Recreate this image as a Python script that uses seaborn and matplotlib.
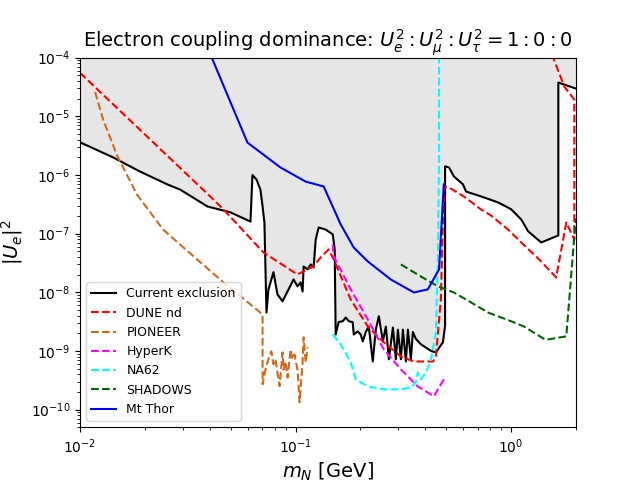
import pandas as pd
import seaborn as sns
import matplotlib.pyplot as plt

# current exclusion (black)
excl_m = [0.0100, 0.0142, 0.0190, 0.0254, 0.0292, 0.0390, 0.0499, 0.0618, 0.0631, 0.0659,
          0.0687, 0.0703, 0.0717, 0.0733, 0.0748, 0.0790, 0.0824, 0.0870, 0.0979, 0.1021,
          0.1055, 0.1078, 0.1090, 0.1138, 0.1175, 0.1213, 0.1240, 0.1280, 0.1379, 0.1487,
          0.1519, 0.1535, 0.1585, 0.1655, 0.1710, 0.1766, 0.1841, 0.1862, 0.1943, 0.2006,
          0.2050, 0.2118, 0.2186, 0.2282, 0.2357, 0.2434, 0.2541, 0.2624, 0.2710, 0.2829,
          0.2921, 0.2984, 0.3081, 0.3148, 0.3250, 0.3320, 0.3428, 0.3502, 0.3615, 0.3811,
          0.4246, 0.4477, 0.4826, 0.4940, 0.4940, 0.515, 0.543, 0.598, 0.618, 0.725,
          0.870, 1.000, 1.114, 1.200, 1.380, 1.656, 1.656, 2.0]
excl_u = [3.6e-6, 2.0e-6, 1.14e-6, 6.9e-7, 5.6e-7, 2.9e-7, 2.3e-7, 1.6e-7, 1.0e-6, 8.3e-7,
          5.6e-7, 2.9e-7, 1.55e-7, 4.5e-9, 1.1e-8, 2.2e-8, 9.2e-9, 7.0e-9, 1.65e-8, 1.26e-8,
          1.47e-8, 1.03e-8, 2.75e-8, 2.45e-8, 2.98e-8, 2.64e-8, 7.9e-8, 1.27e-7, 1.17e-7, 9.7e-8,
          5.4e-8, 1.9e-9, 3.1e-9, 3.2e-9, 3.7e-9, 3.2e-9, 3.1e-9, 1.9e-9, 2.15e-9, 1.9e-9,
          1.45e-9, 2.1e-9, 2.6e-9, 6.6e-10, 2.3e-9, 3.9e-9, 1.45e-9, 2.6e-9, 7.2e-10, 2.5e-9,
          7.2e-10, 2.3e-9, 7.2e-10, 2.3e-9, 6.6e-10, 2.3e-9, 7.2e-10, 2.1e-9, 1.6e-9, 1.3e-9,
          1.0e-9, 9.4e-10, 1.4e-9, 2.7e-9, 1.4e-6, 1.34e-6, 9.4e-7, 6.9e-7, 5.2e-7, 4.3e-7,
          3.4e-7, 2.6e-7, 1.74e-7, 1.09e-7, 7.05e-8, 9.3e-8, 3.75e-5, 2.96e-5]

dune_m = [0.0100, 0.0212, 0.0416, 0.0463, 0.0710, 0.102, 0.121, 0.1307, 0.1423, 0.1503,
          0.1803, 0.2163, 0.2566, 0.308, 0.354, 0.4335, 0.4477, 0.472, 0.4874, 0.515,
          0.604, 0.725, 0.807, 0.968, 1.114, 1.349, 1.618, 1.803, 1.964, 1.964,
          1.765, 1.567, 1.50]
dune_u = [5.5e-5, 4.0e-6, 3.8e-7, 2.58e-7, 4.76e-8, 2.01e-8, 2.75e-8, 3.92e-8, 5.36e-8, 3.62e-8,
          7.5e-9, 2.61e-9, 1.40e-9, 8.05e-10, 6.6e-10, 6.6e-10, 8.05e-10, 7.5e-9, 6.3e-7, 6.1e-7,
          4.28e-7, 2.58e-7, 2.03e-7, 1.17e-7, 7.05e-8, 3.62e-8, 1.79e-8, 1.55e-7, 7.9e-8, 1.92e-5,
          3.2e-5, 1.0e-4, 1.4e-4]

pioneer_m = [0.01175, 0.0128, 0.0149, 0.0184, 0.0243, 0.0336, 0.0463, 0.0703, 0.0703, 0.0725,
             0.0748, 0.0772, 0.0790, 0.0807, 0.0824, 0.0843, 0.0870, 0.0880, 0.0898, 0.0918,
             0.0948, 0.0968, 0.0989, 0.1021, 0.1044, 0.1078, 0.1090, 0.1114, 0.1138]
pioneer_u = [2.6e-5, 8.8e-6, 2.1e-6, 4.6e-7, 1.17e-7, 4.1e-8, 1.47e-8, 4.2e-9, 2.7e-10, 4.8e-10,
             7.2e-10, 9.8e-10, 5.9e-10, 7.2e-10, 4.3e-10, 2.5e-10, 9.4e-10, 4.8e-10, 6.6e-10, 3.5e-10,
             1.06e-9, 7.2e-10, 8.7e-10, 4.8e-10, 1.33e-10, 6.4e-10, 1.7e-9, 6.4e-10, 1.15e-9]

hyperk_m = [0.1487, 0.1503, 0.1803, 0.2163, 0.2566, 0.308, 0.369, 0.4385, 0.4574, 0.4874]
hyperk_u = [6.5e-8, 4.07e-8, 1.12e-8, 3.44e-9, 1.06e-9, 4.84e-10, 2.48e-10, 1.68e-10, 2.21e-10, 3.27e-10]

na62_m = [0.1487, 0.162, 0.1803, 0.190, 0.2163, 0.2566, 0.308, 0.3428, 0.3615, 0.369,
          0.381, 0.4027, 0.4246, 0.4477, 0.4574, 0.463, 0.463]
na62_u = [1.91e-9, 1.29e-9, 6.37e-10, 3.27e-10, 2.48e-10, 2.21e-10, 2.21e-10, 2.39e-10, 2.9e-10, 4.31e-10,
          3.27e-10, 4.31e-10, 7.16e-10, 2.07e-9, 3.62e-8, 1.83e-6, 2.0e-4]

shadows_m = [0.308, 0.381, 0.4574, 0.543, 0.652, 0.782, 1.0, 1.148, 1.422, 1.455, 1.803, 1.964, 2.0]
shadows_u = [2.98e-8, 1.86e-8, 1.26e-8, 9.9e-9, 6.7e-9, 4.5e-9, 3.2e-9, 2.6e-9, 1.6e-9, 1.55e-9,
             1.77e-9, 8.9e-8, 1.8e-7]

thor_m = [0.0400, 0.0598, 0.0851, 0.1113, 0.135, 0.162, 0.186, 0.2163, 0.2766, 0.354,
          0.411, 0.463, 0.4874]
thor_u = [1.2e-4, 3.56e-6, 1.34e-6, 7.7e-7, 6.35e-7, 1.43e-7, 5.8e-8, 3.35e-8, 1.65e-8, 9.9e-9,
          1.12e-8, 2.45e-8, 6.9e-7]

curves = [
    ('Current exclusion', excl_m, excl_u, 'black', '-'),
    ('DUNE nd', dune_m, dune_u, 'red', '--'),
    ('PIONEER', pioneer_m, pioneer_u, 'chocolate', '--'),
    ('HyperK', hyperk_m, hyperk_u, 'magenta', '--'),
    ('NA62', na62_m, na62_u, 'cyan', '--'),
    ('SHADOWS', shadows_m, shadows_u, 'darkgreen', '--'),
    ('Mt Thor', thor_m, thor_u, 'blue', '-'),
]

fig, ax = plt.subplots(figsize=(6.4, 4.8), dpi=100)

ax.fill_between(excl_m, excl_u, 1e-4, color='0.9', linewidth=0)

for name, m, u, col, ls in curves:
    df = pd.DataFrame({'m': m, 'u': u})
    sns.lineplot(ax=ax, data=df, x='m', y='u', sort=False, estimator=None,
                 color=col, linestyle=ls, linewidth=1.5, label=name)

ax.set_xscale('log')
ax.set_yscale('log')
ax.set_xlim(1e-2, 2)
ax.set_ylim(5e-11, 1e-4)
ax.set_xlabel(r'$m_N$ [GeV]', fontsize=14)
ax.set_ylabel(r'$|U_e|^2$', fontsize=14)
ax.set_title(r'Electron coupling dominance: $U_e^2:U_\mu^2:U_\tau^2=1:0:0$', fontsize=14)
ax.legend(loc='lower left', fontsize=9)

fig.savefig('out.png')
